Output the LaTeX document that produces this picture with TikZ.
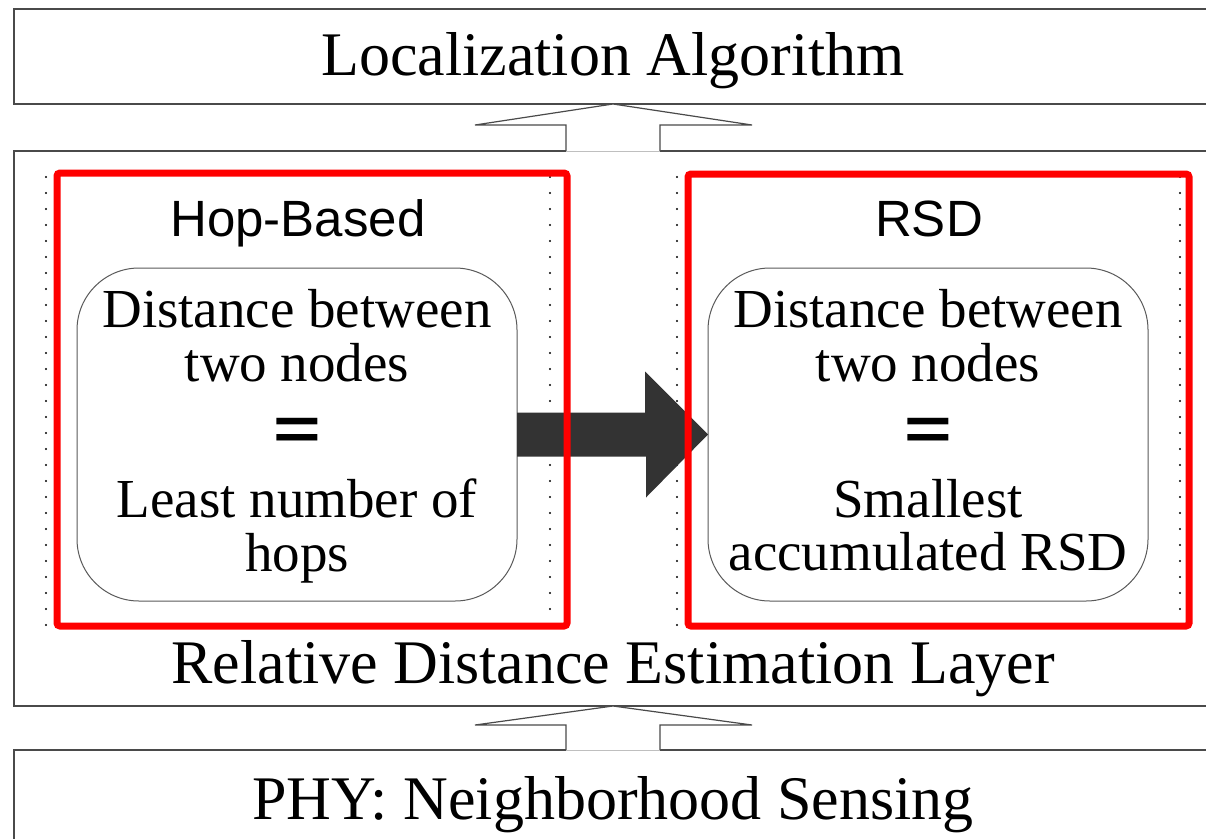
\documentclass[tikz,border=0pt]{standalone}
\usepackage{fontspec}
\setmainfont{Liberation Serif}
\newfontfamily\hopfont{Liberation Sans}
\newfontfamily\eqfont[FakeStretch=1.36]{Liberation Sans}
\usetikzlibrary{calc}
\definecolor{boxline}{HTML}{4A4A4A}
\definecolor{darkfill}{HTML}{333333}
\tikzset{
  layerbox/.style={draw=boxline, line width=1.5pt, outer sep=0pt, inner sep=0pt},
  layertext/.style={font=\fontsize{62}{62}\selectfont, inner sep=0pt, anchor=base},
  boxtext/.style={font=\fontsize{55}{54}\selectfont, inner sep=0pt, anchor=base},
  headtext/.style={font=\hopfont\fontsize{51}{51}\selectfont, inner sep=0pt, anchor=base},
  eqtext/.style={font=\eqfont\bfseries\fontsize{60}{60}\selectfont, inner sep=0pt, anchor=base},
  roundbox/.style={draw=black!65, line width=1pt, rounded corners=62pt, minimum width=440pt, minimum height=333pt, inner sep=0pt, outer sep=0pt},
  redbox/.style={draw=red, line width=7pt, rounded corners=3pt, inner sep=0pt, outer sep=0pt},
  dotline/.style={line width=2.2pt, line cap=round, dash pattern=on 0pt off 16pt, black},
  hollowarrow/.style={draw=boxline, line width=1.2pt, fill=white, line join=miter},
  darkarrow/.style={fill=darkfill}
}
\begin{document}
\begin{tikzpicture}[x=1pt,y=-1pt]
\useasboundingbox (0,0) rectangle (1206,838);
\clip (0,0) rectangle (1206,838);
% layer boxes
\node[layerbox, minimum width=1220pt, minimum height=95pt, anchor=north west] (top) at (14,9) {};
\node[layerbox, minimum width=1220pt, minimum height=555pt, anchor=north west] (mid) at (14,151) {};
\node[layerbox, minimum width=1220pt, minimum height=120pt, anchor=north west] (bot) at (14,750) {};
% layer texts
\node[layertext] (loc) at (613,75) {Localization Algorithm};
\node[layertext] (rel) at (613,683) {Relative Distance Estimation Layer};
\node[layertext] (phy) at (613,819) {PHY: Neighborhood Sensing};
% hollow arrows
\coordinate (a1tip) at (613,104);
\coordinate (a2tip) at (613,706);
\fill[white] (566,125) rectangle (660,151.6);
\draw[hollowarrow] (566,151) -- (566,125) -- (475,125) -- (a1tip) -- (752,125) -- (660,125) -- (660,151);
\draw[black!25, line width=1pt] (566,151) -- (660,151);
\fill[white] (566,725) rectangle (660,750.6);
\draw[hollowarrow] (566,750) -- (566,725) -- (475,725) -- (a2tip) -- (752,725) -- (660,725) -- (660,750);
\draw[black!25, line width=1pt] (566,750) -- (660,750);
% dotted lines
\draw[dotline] (46,177) -- (46,626);
\draw[dotline] (550,177) -- (550,626);
\draw[dotline] (677,177) -- (677,626);
\draw[dotline] (1180,177) -- (1180,626);
% rounded boxes
\node[roundbox] (hopbox) at (297,434.5) {};
\node[roundbox] (rsdbox) at (928,434.5) {};
% headings
\node[headtext] (hophead) at (298,236) {Hop-Based};
\node[headtext] (rsdhead) at (929,236) {RSD};
% box texts
\node[boxtext] (h1) at (297,327) {Distance between};
\node[boxtext] (h2) at (297,381) {two nodes};
\node[eqtext] (heq) at (297,449) {=};
\node[boxtext] (h3) at (297,517) {Least number of};
\node[boxtext] (h4) at (297,571) {hops};
\node[boxtext] (r1) at (928,327) {Distance between};
\node[boxtext] (r2) at (928,381) {two nodes};
\node[eqtext] (req) at (928,449) {=};
\node[boxtext] (r3) at (928,517) {Smallest};
\node[boxtext] (r4) at (928,570) {accumulated RSD};
% dark arrow
\fill[darkarrow] ([yshift=22pt]hopbox.east) -- ++(128,0) -- ++(0,-41) -- (rsdbox.west) -- ++(-62,63) -- ++(0,-41) -- ([yshift=-22pt]hopbox.east) -- cycle;
% red frames
\node[redbox, minimum width=510pt, minimum height=453pt, anchor=north west] (hopred) at (57,173) {};
\node[redbox, minimum width=501pt, minimum height=452pt, anchor=north west] (rsdred) at (688,174) {};
\end{tikzpicture}
\end{document}
